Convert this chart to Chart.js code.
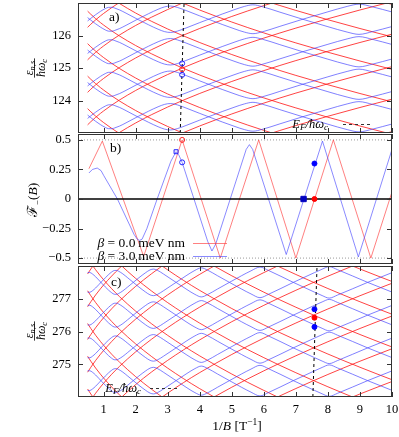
<!DOCTYPE html>
<html>
<head>
<meta charset="utf-8">
<script src="https://cdn.jsdelivr.net/npm/chart.js@4.4.1/dist/chart.umd.min.js"></script>
<style>
  body { margin: 0; background: #fff; width: 399px; height: 437px; overflow: hidden; position: relative; }
  canvas { position: absolute; left: 0; }
</style>
</head>
<body>
<canvas id="pa" style="top:0px;width:399px;height:134px" width="399" height="134"></canvas>
<canvas id="pb" style="top:133px;width:399px;height:132px" width="399" height="132"></canvas>
<canvas id="pc" style="top:265px;width:399px;height:172px" width="399" height="172"></canvas>
<script>
// ticks
const xTicks = [1, 2, 3, 4, 5, 6, 7, 8, 9, 10];
const ticksA = [124, 125, 126];
const ticksB = [-0.5, -0.25, 0, 0.25, 0.5];
const labelsB = ['\u22120.5', '\u22120.25', '0', '0.25', '0.5'];
const ticksC = [275, 276, 277];

// panel a) : levels around E_F at 1/B ~ 3.4
const levelsA = [117, 118, 119, 120, 121, 122, 123, 124, 125, 126, 127, 128, 129, 130, 131, 132, 133];
const redXA = [0.5, 0.6, 0.75, 0.9, 1, 1.25, 1.5, 2, 2.5, 3, 3.5, 4, 5, 6, 7, 8, 9, 10];
const redSA = [1.251, 1.348, 1.481, 1.603, 1.679, 1.857, 2.019, 2.309, 2.566, 2.800, 3.016, 3.217, 3.586, 3.920, 4.228, 4.515, 4.785, 5.041];
const bandsA = [122, 123, 124, 125, 126];
const blueXA = [0.5, 0.6, 0.75, 0.9, 1.05, 1.15, 1.255, 1.35, 1.5, 1.7, 2.08, 2.4, 2.7, 2.9, 3.09, 3.3, 3.6, 4.0, 4.29, 4.7, 5.1, 5.4, 5.66, 5.95, 6.5, 7.22, 8.0, 8.6, 8.97, 9.4, 10];
const blueZA = [0.551, 0.472, 0.360, 0.258, 0.173, 0.134, 0.132, 0.158, 0.214, 0.313, 0.512, 0.670, 0.807, 0.880, 0.907, 0.865, 0.758, 0.603, 0.494, 0.340, 0.199, 0.103, 0.056, 0.113, 0.281, 0.502, 0.729, 0.895, 0.965, 0.879, 0.724];
const fermiA = [[3.39, 123], [3.51, 127]];
const blueMarkA = [[3.45, 125.14], [3.45, 124.79]];
const redMarkA = [[3.45, 124.96]];

// panel b) : F_-(B)
const fRedX = [0.54, 0.96, 2.25, 3.45, 4.64, 5.84, 7.0, 8.17, 9.34, 10];
const fRedY = [0.256, 0.49, -0.486, 0.5, -0.5, 0.5, -0.5, 0.5, -0.5, 0.06];
const fBlueX = [0.54, 0.65, 0.8, 0.92, 1.0, 1.43, 1.95, 2.05, 2.12, 2.2, 2.35, 2.67, 3.1, 3.26, 3.35, 3.45, 4.25, 4.38, 4.5, 5.45, 5.55, 5.65, 6.7, 7.83, 8.95, 10];
const fBlueY = [0.22, 0.25, 0.262, 0.24, 0.2, 0.0, -0.3, -0.34, -0.35, -0.34, -0.25, 0.0, 0.32, 0.40, 0.37, 0.31, -0.36, -0.44, -0.38, 0.42, 0.46, 0.42, -0.47, 0.49, -0.49, 0.42];
const redOpenB = [[3.45, 0.5]];
const blueOpenB = [[3.45, 0.31]];
const blueSquareOpenB = [[3.26, 0.40]];
const blueSquareB = [[7.24, 0]];
const redDotB = [[7.58, 0]];
const blueDotB = [[7.58, 0.30]];

// panel c) : levels around E_F at 1/B ~ 7.6
const levelsC = [265, 266, 267, 268, 269, 270, 271, 272, 273, 274, 275, 276, 277, 278, 279, 280, 281, 282, 283, 284, 285, 286, 287];
const redXC = [0.5, 0.6, 0.75, 0.9, 1, 1.25, 1.5, 2, 2.5, 3, 3.5, 4, 5, 6, 7, 8, 9, 10];
const redSC = [1.757, 1.908, 2.115, 2.304, 2.421, 2.693, 2.939, 3.379, 3.767, 4.119, 4.444, 4.746, 5.299, 5.799, 6.259, 6.688, 7.092, 7.473];
const bandsC = [273, 274, 275, 276, 277];
const blueXC = [0.5, 0.567, 0.65, 0.75, 0.85, 0.94, 1.05, 1.15, 1.25, 1.33, 1.3975, 1.47, 1.6, 1.75, 1.94, 2.1, 2.3, 2.45, 2.56, 2.67, 2.87, 3.27, 3.6, 3.85, 4.05, 4.25, 4.55, 4.93, 5.3, 5.6, 5.88, 6.15, 6.92, 7.58, 7.82, 8.04, 8.3, 9.24, 10];
const blueZC = [0.199, 0.198, 0.243, 0.328, 0.430, 0.526, 0.638, 0.734, 0.816, 0.862, 0.865, 0.839, 0.759, 0.641, 0.488, 0.359, 0.211, 0.118, 0.094, 0.127, 0.246, 0.506, 0.719, 0.867, 0.944, 0.870, 0.705, 0.498, 0.299, 0.147, 0.033, 0.138, 0.500, 0.798, 0.903, 0.980, 0.887, 0.500, 0.203];
const fermiC = [[7.53, 274], [7.66, 278]];
const blueMarkC = [[7.58, 276.68], [7.58, 276.14]];
const redMarkC = [[7.58, 276.42]];

const SERIF = "'Liberation Serif', 'DejaVu Serif', serif";
const RED = 'rgba(255, 20, 20, 0.8)';
const BLUE = 'rgba(60, 60, 255, 0.65)';
const RED_B = 'rgba(255, 60, 60, 0.65)';
const BLUE_B = 'rgba(60, 60, 255, 0.6)';

const pts = arr => arr.map(p => ({ x: p[0], y: p[1] }));

function curve(xs, ys, color, order) {
  return {
    data: xs.map((x, i) => ({ x: x, y: ys[i] })),
    borderColor: color, borderWidth: 1, pointRadius: 0, fill: false,
    cubicInterpolationMode: 'monotone', order: order
  };
}

function levels(xs, s, lv, color) {
  const out = [];
  lv.forEach(n => {
    out.push(curve(xs, s.map(v => n + v), color, 3));
    out.push(curve(xs, s.map(v => n - v), color, 3));
  });
  return out;
}

function bands(xs, z, bd, color) {
  const out = [];
  bd.forEach(n => {
    out.push(curve(xs, z.map(v => n + v), color, 2));
    out.push(curve(xs, z.map(v => n + 1 - v), color, 2));
  });
  return out;
}

function marks(arr, color, filled, style, r) {
  return {
    data: pts(arr), showLine: false, pointStyle: style || 'circle', pointRadius: r || 2.5,
    pointBorderColor: color, pointBackgroundColor: filled ? color : 'rgba(0,0,0,0)',
    pointBorderWidth: 1, order: 0
  };
}

function dashed(arr) {
  return { data: pts(arr), borderColor: '#000', borderWidth: 1, borderDash: [3, 3], pointRadius: 0, order: 1 };
}

// mixed roman / italic text runs: [text, size, italic, dy]
function txt(ctx, items, x, y, align) {
  const f = it => (it[2] ? 'italic ' : '') + it[1] + 'px ' + SERIF;
  let w = 0;
  items.forEach(it => { ctx.font = f(it); w += ctx.measureText(it[0]).width; });
  let cx = align === 'center' ? x - w / 2 : align === 'right' ? x - w : x;
  items.forEach(it => {
    ctx.font = f(it);
    ctx.fillText(it[0], cx, y + (it[3] || 0));
    cx += ctx.measureText(it[0]).width;
  });
  return w;
}

function fracTitle(ctx, cx, cy) {
  ctx.save();
  ctx.translate(cx, cy);
  ctx.rotate(-Math.PI / 2);
  const w1 = txt(ctx, [['\u03b5', 12, true], ['n,s', 8.5, true, 2]], 0, -2.5, 'center');
  const w2 = txt(ctx, [['\u0127\u03c9', 12, true], ['c', 8.5, true, 2]], 0, 9.5, 'center');
  const w = Math.max(w1, w2) + 1;
  ctx.fillRect(-w / 2, -0.9, w, 0.8);
  ctx.restore();
}

const frame = {
  id: 'frame',
  afterDatasetsDraw(chart, args, opts) {
    const ctx = chart.ctx, a = chart.chartArea, sx = chart.scales.x, sy = chart.scales.y;
    ctx.save();
    ctx.strokeStyle = '#333';
    ctx.lineWidth = 1;
    ctx.strokeRect(a.left + 0.5, a.top + 0.5, a.right - a.left - 1, a.bottom - a.top - 1);
    ctx.beginPath();
    xTicks.forEach(v => {
      const px = Math.round(sx.getPixelForValue(v)) + 0.5;
      ctx.moveTo(px, a.bottom); ctx.lineTo(px, a.bottom - 5);
      ctx.moveTo(px, a.top); ctx.lineTo(px, a.top + 5);
    });
    opts.yTicks.forEach(v => {
      const py = Math.round(sy.getPixelForValue(v)) + 0.5;
      ctx.moveTo(a.left, py); ctx.lineTo(a.left + 5, py);
      ctx.moveTo(a.right, py); ctx.lineTo(a.right - 5, py);
    });
    ctx.stroke();
    ctx.fillStyle = '#000';
    ctx.textAlign = 'left';
    ctx.textBaseline = 'alphabetic';
    opts.draw(ctx, chart);
    ctx.restore();
  }
};

function makeChart(id, datasets, yMin, yMax, yTicks, yLabels, showX, pad, draw) {
  return new Chart(document.getElementById(id), {
    type: 'line',
    data: { datasets: datasets },
    options: {
      responsive: false, maintainAspectRatio: false, animation: false, events: [],
      layout: { padding: pad, autoPadding: false },
      plugins: { legend: { display: false }, tooltip: { enabled: false }, frame: { yTicks: yTicks, draw: draw } },
      scales: {
        x: {
          type: 'linear', min: 0.2, max: 10, display: showX,
          afterFit: s => {
            s.height = showX ? 40 : 0;
            s.paddingLeft = 0; s.paddingRight = 0; s.paddingTop = 0; s.paddingBottom = 0;
          },
          afterBuildTicks: s => { s.ticks = xTicks.map(v => ({ value: v })); },
          grid: { display: false, drawTicks: false }, border: { display: false },
          ticks: { padding: 5, color: '#000', font: { family: SERIF, size: 12.5 }, maxRotation: 0, autoSkip: false, callback: v => String(v) }
        },
        y: {
          type: 'linear', min: yMin, max: yMax,
          afterFit: s => {
            s.width = 78;
            s.paddingLeft = 0; s.paddingRight = 0; s.paddingTop = 0; s.paddingBottom = 0;
          },
          afterBuildTicks: s => { s.ticks = yTicks.map(v => ({ value: v })); },
          grid: { display: false, drawTicks: false }, border: { display: false },
          ticks: { padding: 7, color: '#000', font: { family: SERIF, size: 12.5 }, autoSkip: false, callback: (v, i) => yLabels[i] }
        }
      }
    },
    plugins: [frame]
  });
}

// a)
makeChart('pa',
  [marks(blueMarkA, '#2020ff', false), marks(redMarkA, '#ff2020', false), dashed(fermiA)]
    .concat(levels(redXA, redSA, levelsA, RED), bands(blueXA, blueZA, bandsA, BLUE)),
  123, 127, ticksA, ticksA.map(String), false, { top: 3, right: 7, bottom: 1, left: 0 },
  (ctx) => {
    txt(ctx, [['a)', 13.5]], 109, 21);
    txt(ctx, [['E', 12.5, true], ['F', 9, true, 2], ['/\u0127\u03c9', 12.5, true], ['c', 9, true, 2]], 328, 128, 'right');
    ctx.setLineDash([3, 3]);
    ctx.beginPath(); ctx.moveTo(343, 124.5); ctx.lineTo(373, 124.5); ctx.stroke();
    ctx.setLineDash([]);
    fracTitle(ctx, 35, 68);
  });

// b)
makeChart('pb',
  [marks(redOpenB, '#ff2020', false), marks(blueOpenB, '#2020ff', false),
   marks(blueSquareOpenB, '#2020ff', false, 'rect', 2.8),
   marks(blueSquareB, '#0000c0', true, 'rect', 3.8), marks(redDotB, '#ff0000', true), marks(blueDotB, '#0000ff', true),
   { data: pts([[0.2, 0], [10, 0]]), borderColor: '#000', borderWidth: 1.3, pointRadius: 0, order: 1 },
   { data: pts([[0.2, 0.5], [10, 0.5]]), borderColor: '#999', borderWidth: 1, borderDash: [1, 2], pointRadius: 0, order: 4 },
   { data: pts([[0.2, -0.5], [10, -0.5]]), borderColor: '#999', borderWidth: 1, borderDash: [1, 2], pointRadius: 0, order: 4 },
   Object.assign(curve(fBlueX, fBlueY, BLUE_B, 2), { cubicInterpolationMode: 'default', tension: 0 }),
   Object.assign(curve(fRedX, fRedY, RED_B, 3), { cubicInterpolationMode: 'default', tension: 0 })],
  -0.55, 0.55, ticksB, labelsB, false, { top: 1, right: 7, bottom: 1, left: 0 },
  (ctx) => {
    const o = 133;
    txt(ctx, [['b)', 13.5]], 110, 152 - o);
    txt(ctx, [['\u03b2', 13.5, true], [' = 0.0\u2009meV nm', 13.5]], 185, 247 - o, 'right');
    txt(ctx, [['\u03b2', 13.5, true], [' = 3.0\u2009meV nm', 13.5]], 185, 260 - o, 'right');
    ctx.lineWidth = 1;
    ctx.strokeStyle = RED_B;
    ctx.beginPath(); ctx.moveTo(193, 243.5 - o); ctx.lineTo(227, 243.5 - o); ctx.stroke();
    ctx.strokeStyle = BLUE_B;
    ctx.beginPath(); ctx.moveTo(193, 256.5 - o); ctx.lineTo(227, 256.5 - o); ctx.stroke();
    ctx.save();
    ctx.translate(33, 200 - o);
    ctx.rotate(-Math.PI / 2);
    txt(ctx, [['\u2131', 14], ['\u2212', 9, false, 3], ['(', 13.5], ['B', 13.5, true], [')', 13.5]], 0, 4, 'center');
    ctx.restore();
  });

// c)
makeChart('pc',
  [marks(blueMarkC, '#0000ff', true), marks(redMarkC, '#ff0000', true), dashed(fermiC)]
    .concat(levels(redXC, redSC, levelsC, RED), bands(blueXC, blueZC, bandsC, BLUE)),
  274, 278, ticksC, ticksC.map(String), true, { top: 1, right: 7, bottom: 0, left: 0 },
  (ctx) => {
    const o = 265;
    txt(ctx, [['c)', 13.5]], 111, 286 - o);
    txt(ctx, [['E', 12.5, true], ['F', 9, true, 2], ['/\u0127\u03c9', 12.5, true], ['c', 9, true, 2]], 141, 392 - o, 'right');
    ctx.setLineDash([3, 3]);
    ctx.beginPath(); ctx.moveTo(150, 388.5 - o); ctx.lineTo(180, 388.5 - o); ctx.stroke();
    ctx.setLineDash([]);
    fracTitle(ctx, 35, 331 - o);
    txt(ctx, [['1/', 13.5], ['B', 13.5, true], [' [T', 13.5], ['\u22121', 9.5, false, -5], [']', 13.5]], 237, 430 - o, 'center');
  });
</script>
</body>
</html>
